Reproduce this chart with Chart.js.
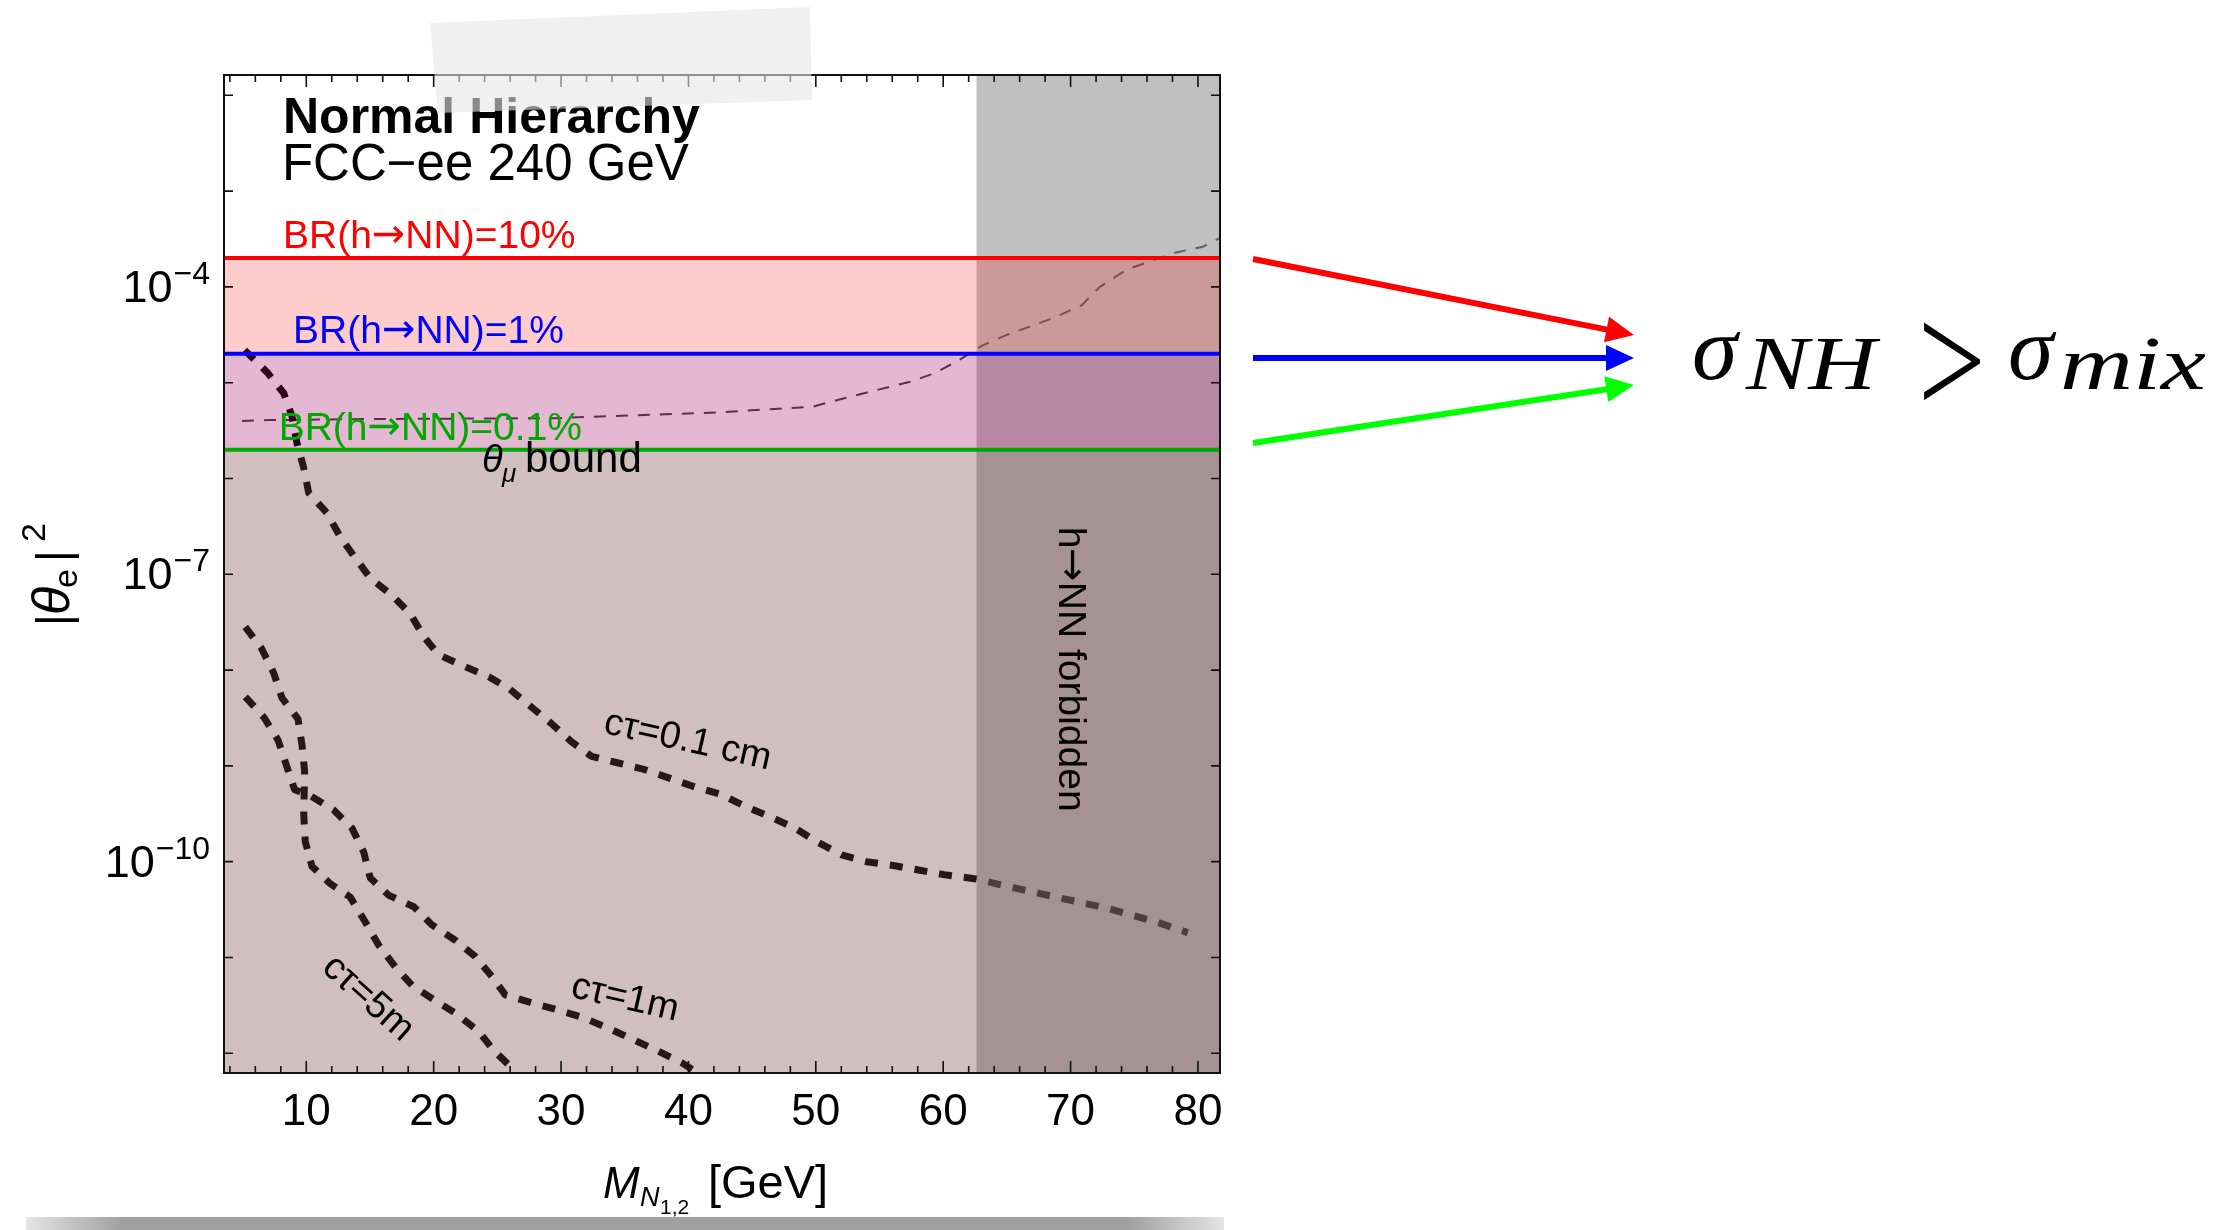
<!DOCTYPE html>
<html>
<head>
<meta charset="utf-8">
<script src="https://cdn.jsdelivr.net/npm/chart.js@4.4.1/dist/chart.umd.min.js"></script>
<style>
  html, body { margin: 0; padding: 0; background: #fff; }
  canvas { display: block; }
</style>
</head>
<body>
<canvas id="c" width="2220" height="1230"></canvas>
<script>
// Heavy neutrino mass M_N1,2 [GeV] on x, |theta_e|^2 on a log y axis.
// y values below as log10 exponents.
const axisX = [3.54, 81.73];
const axisLogY = [-12.206, -1.788];
const xTicks = [10, 20, 30, 40, 50, 60, 70, 80];
const xMinorStep = 2;
const yLabelExps = [-4, -7, -10];

const brLevels = [2e-4, 2e-5, 2e-6];
const brPercents = ['10%', '1%', '0.1%'];
const forbiddenX = [62.6, 81.73];

const ct01cmX = [5.16, 6.92, 8.23, 8.88, 9.27, 9.80, 10.19, 11.62, 12.67, 13.85, 15.02, 16.73, 18.16, 19.22, 20.39, 22.22, 24.32, 25.89, 29.26, 30.83, 32.40, 34.49, 36.59, 38.55, 40.51, 42.61, 44.57, 46.40, 48.36, 50.06, 52.03, 53.99, 56.08, 58.18, 60.27, 62.58, 64.45, 68.51, 72.69, 76.75, 79.2];
const ct01cmLogY = [-4.66, -4.89, -5.11, -5.35, -5.63, -5.89, -6.15, -6.36, -6.61, -6.83, -7.04, -7.22, -7.41, -7.65, -7.84, -7.95, -8.07, -8.19, -8.56, -8.75, -8.90, -8.97, -9.04, -9.13, -9.22, -9.30, -9.43, -9.53, -9.65, -9.79, -9.93, -10.00, -10.04, -10.09, -10.14, -10.18, -10.24, -10.36, -10.48, -10.63, -10.74];

const ct1mX = [5.21, 6.66, 7.78, 8.43, 9.09, 10.31, 12.15, 13.59, 14.51, 15.02, 16.47, 18.43, 19.87, 21.70, 23.27, 24.58, 25.62, 27.85, 29.81, 31.77, 33.74, 35.70, 37.66, 39.49, 40.54];
const ct1mLogY = [-8.28, -8.49, -8.73, -8.99, -9.25, -9.31, -9.46, -9.65, -9.90, -10.17, -10.35, -10.47, -10.66, -10.82, -10.99, -11.20, -11.39, -11.48, -11.55, -11.63, -11.74, -11.86, -11.98, -12.10, -12.19];

const ct5mX = [5.21, 6.47, 7.44, 8.09, 9.35, 9.66, 9.87, 9.80, 9.92, 10.45, 11.88, 13.45, 14.63, 15.68, 16.99, 18.30, 20.0, 21.70, 23.53, 24.71, 26.28];
const ct5mLogY = [-7.55, -7.77, -8.03, -8.29, -8.51, -8.78, -9.06, -9.51, -9.79, -10.05, -10.23, -10.37, -10.63, -10.87, -11.10, -11.29, -11.44, -11.58, -11.77, -11.97, -12.17];

const thetaMuX = [4.95, 7.05, 14.4, 29.5, 42.3, 49.8, 51.7, 57.4, 59.35, 61.3, 63.1, 65.0, 67.1, 68.9, 70.9, 71.4, 72.3, 74.4, 76.5, 78.3, 80.4, 81.7];
const thetaMuLogY = [-5.40, -5.39, -5.38, -5.37, -5.31, -5.25, -5.18, -4.99, -4.90, -4.76, -4.61, -4.50, -4.40, -4.31, -4.19, -4.12, -4.00, -3.82, -3.72, -3.64, -3.58, -3.49];

const SANS = '"Liberation Sans", Arial, sans-serif';
const SERIF = '"Liberation Serif", "Times New Roman", serif';
const ARROW = '"DejaVu Sans", sans-serif';

function pts(xs, logs) {
  return xs.map((x, i) => ({ x: x, y: Math.pow(10, logs[i]) }));
}

function brSet(level, lineColor, fillColor, order) {
  return {
    data: axisX.map(x => ({ x: x, y: level })),
    borderColor: lineColor, borderWidth: 4,
    backgroundColor: fillColor, fill: 'start',
    pointRadius: 0, order: order, clip: 0
  };
}

function curveSet(xs, logs, width, dash, color) {
  return {
    data: pts(xs, logs),
    borderColor: color, borderWidth: width, borderDash: dash,
    borderCapStyle: 'butt', borderJoinStyle: 'round',
    fill: false, pointRadius: 0, order: 6, clip: 0
  };
}

function txt(ctx, s, x, y, font, color, align) {
  ctx.font = font;
  ctx.fillStyle = color || '#000';
  ctx.textAlign = align || 'left';
  ctx.textBaseline = 'alphabetic';
  ctx.fillText(s, x, y);
}

// draws [text, font, dy] pieces one after another, returns the width used
function runs(ctx, parts, x, y, color, measureOnly) {
  let cx = x;
  parts.forEach(p => {
    ctx.font = p[1];
    if (!measureOnly) txt(ctx, p[0], cx, y + (p[2] || 0), p[1], color);
    cx += ctx.measureText(p[0]).width;
  });
  return cx - x;
}

// text stretched to a given width (math italics are wider than Times)
function wideTxt(ctx, s, x, y, font, width) {
  ctx.save();
  ctx.font = font;
  const w = ctx.measureText(s).width;
  ctx.translate(x, y);
  ctx.scale(width / w, 1);
  txt(ctx, s, 0, 0, font);
  ctx.restore();
}

function brParts(pct) {
  return [['BR(h', '39px ' + SANS], ['→', '40px ' + ARROW, -1], ['NN)=' + pct, '39px ' + SANS]];
}

function arrow(ctx, x1, y1, x2, y2, color) {
  const ang = Math.atan2(y2 - y1, x2 - x1), head = 28, half = 13;
  const bx = x2 - head * Math.cos(ang), by = y2 - head * Math.sin(ang);
  ctx.strokeStyle = color; ctx.fillStyle = color; ctx.lineWidth = 6; ctx.setLineDash([]);
  ctx.beginPath(); ctx.moveTo(x1, y1); ctx.lineTo(bx + 2 * Math.cos(ang), by + 2 * Math.sin(ang)); ctx.stroke();
  ctx.beginPath();
  ctx.moveTo(x2, y2);
  ctx.lineTo(bx + half * Math.sin(ang), by - half * Math.cos(ang));
  ctx.lineTo(bx - half * Math.sin(ang), by + half * Math.cos(ang));
  ctx.closePath(); ctx.fill();
}

const decorations = {
  id: 'decorations',
  afterDraw(chart) {
    const ctx = chart.ctx, a = chart.chartArea;
    const sx = chart.scales.x, sy = chart.scales.y;
    const px = x => sx.getPixelForValue(x);
    const py = e => sy.getPixelForValue(Math.pow(10, e));
    ctx.save();

    // frame + inward ticks
    ctx.setLineDash([]);
    ctx.strokeStyle = '#111'; ctx.lineWidth = 2;
    ctx.strokeRect(a.left, a.top, a.right - a.left, a.bottom - a.top);
    ctx.lineWidth = 1.6;
    ctx.beginPath();
    for (let v = Math.ceil(axisX[0] / xMinorStep) * xMinorStep; v <= axisX[1]; v += xMinorStep) {
      const len = v % 10 === 0 ? 12 : 7, X = px(v);
      ctx.moveTo(X, a.bottom); ctx.lineTo(X, a.bottom - len);
      ctx.moveTo(X, a.top); ctx.lineTo(X, a.top + len);
    }
    sy.ticks.forEach(t => {
      const Y = sy.getPixelForValue(t.value);
      ctx.moveTo(a.left, Y); ctx.lineTo(a.left + 9, Y);
      ctx.moveTo(a.right, Y); ctx.lineTo(a.right - 9, Y);
    });
    ctx.stroke();

    // tick labels
    sx.ticks.forEach(t => txt(ctx, String(t.value), px(t.value), 1125, '44px ' + SANS, '#000', 'center'));
    yLabelExps.forEach(e => {
      const Y = py(e), sup = '−' + String(-e);
      ctx.font = '32px ' + SANS;
      const w = ctx.measureText(sup).width;
      txt(ctx, sup, 210, Y - 3, '32px ' + SANS, '#000', 'right');
      txt(ctx, '10', 210 - w - 1, Y + 15, '45px ' + SANS, '#000', 'right');
    });

    // axis titles
    txt(ctx, 'M', 603, 1198, 'italic 44px ' + SANS);
    txt(ctx, 'N', 640, 1206, 'italic 27px ' + SANS);
    txt(ctx, '1,2', 660, 1214, '21px ' + SANS);
    txt(ctx, '[GeV]', 708, 1198, '47px ' + SANS);

    ctx.save();
    ctx.translate(69, 622);
    ctx.rotate(-Math.PI / 2);
    txt(ctx, '|', -4, 0, '46px ' + SANS);
    txt(ctx, 'θ', 7, 0, 'italic 52px ' + SANS);
    txt(ctx, 'e', 34, 8, '34px ' + SANS);
    txt(ctx, '|', 60, 0, '46px ' + SANS);
    txt(ctx, '2', 80, -24, '34px ' + SANS);
    ctx.restore();

    // annotations inside the frame
    txt(ctx, 'Normal Hierarchy', px(8.17), py(-2.393), 'bold 50px ' + SANS);
    txt(ctx, 'FCC−ee 240 GeV', px(8.09), py(-2.884), '51px ' + SANS);
    runs(ctx, brParts(brPercents[0]), px(8.17), py(-3.594), '#ff0000');
    runs(ctx, brParts(brPercents[1]), px(8.96), py(-4.589), '#0000ff');
    runs(ctx, brParts(brPercents[2]), px(7.83), py(-5.598), '#00a800');
    txt(ctx, 'θ', px(23.79), py(-5.929), 'italic 38px ' + SANS);
    txt(ctx, 'μ', px(23.79) + 20, py(-5.929) + 10, 'italic 26px ' + SANS);
    txt(ctx, 'bound', px(23.79) + 43, py(-5.929), '42px ' + SANS);

    const rotated = [
      ['cτ=0.1 cm', 39.94, -8.740, 12.6],
      ['cτ=1m', 35.02, -11.428, 13],
      ['cτ=5m', 14.84, -11.428, 42]
    ];
    rotated.forEach(r => {
      ctx.save();
      ctx.translate(px(r[1]), py(r[2]));
      ctx.rotate(r[3] * Math.PI / 180);
      ctx.font = '38px ' + SANS;
      ctx.fillStyle = '#000'; ctx.textAlign = 'center'; ctx.textBaseline = 'middle';
      ctx.fillText(r[0], 0, 0);
      ctx.restore();
    });

    ctx.save();
    ctx.translate(px(70.18), py(-7.99));
    ctx.rotate(Math.PI / 2);
    const forb = [['h', '39px ' + SANS], ['→', '40px ' + ARROW, -1], ['NN forbidden', '39px ' + SANS]];
    const fw = runs(ctx, forb, 0, 0, '#000', true);
    runs(ctx, forb, -fw / 2, 14, '#000');
    ctx.restore();

    // tape strip over the top of the plot
    ctx.fillStyle = 'rgba(230,230,230,0.6)';
    ctx.beginPath();
    ctx.moveTo(430, 23); ctx.lineTo(810, 7); ctx.lineTo(812, 100); ctx.lineTo(438, 113);
    ctx.closePath(); ctx.fill();

    // bottom shadow
    const g = ctx.createLinearGradient(26, 0, 1224, 0);
    g.addColorStop(0, 'rgba(150,150,150,0.25)');
    g.addColorStop(0.08, 'rgba(150,150,150,0.9)');
    g.addColorStop(0.92, 'rgba(150,150,150,0.9)');
    g.addColorStop(1, 'rgba(150,150,150,0.25)');
    ctx.fillStyle = g;
    ctx.fillRect(26, 1217, 1198, 13);

    // arrows + inequality
    arrow(ctx, 1253, 259, 1634, 335, '#ff0000');
    arrow(ctx, 1253, 358, 1634, 358, '#0000ff');
    arrow(ctx, 1253, 443, 1634, 385, '#00ff00');
    const sub = 'italic 76px ' + SERIF;
    txt(ctx, 'σ', 1692, 379, 'italic 92px ' + SERIF);
    wideTxt(ctx, 'NH', 1746, 389, sub, 130);
    ctx.save();
    ctx.translate(1918, 415);
    ctx.scale(1, 1.35);
    txt(ctx, '>', 0, 0, '120px ' + SERIF);
    ctx.restore();
    txt(ctx, 'σ', 2008, 379, 'italic 92px ' + SERIF);
    wideTxt(ctx, 'mix', 2060, 389, sub, 146);

    ctx.restore();
  }
};

new Chart(document.getElementById('c'), {
  type: 'line',
  data: {
    datasets: [
      brSet(brLevels[2], '#00a800', 'rgba(0,255,0,0.088)', 1),
      brSet(brLevels[1], '#0000ff', 'rgba(0,0,255,0.106)', 2),
      brSet(brLevels[0], '#ff0000', 'rgba(255,0,0,0.2)', 3),
      {
        data: forbiddenX.map(x => ({ x: x, y: Math.pow(10, axisLogY[1]) })),
        borderColor: 'rgba(0,0,0,0)', borderWidth: 1,
        backgroundColor: 'rgba(127,127,127,0.49)', fill: 'start',
        pointRadius: 0, order: 4, clip: 0
      },
      curveSet(ct01cmX, ct01cmLogY, 7, [13, 12], '#000'),
      curveSet(ct1mX, ct1mLogY, 7, [13, 12], '#000'),
      curveSet(ct5mX, ct5mLogY, 7, [13, 12], '#000'),
      curveSet(thetaMuX, thetaMuLogY, 2, [12, 10], 'rgba(0,0,0,0.75)')
    ]
  },
  options: {
    responsive: false,
    maintainAspectRatio: false,
    devicePixelRatio: 1,
    animation: false,
    layout: { padding: { left: 0, right: 1000, top: 75, bottom: 0 } },
    plugins: { legend: { display: false }, tooltip: { enabled: false } },
    scales: {
      x: {
        type: 'linear', min: axisX[0], max: axisX[1], bounds: 'data',
        afterBuildTicks: s => { s.ticks = xTicks.map(v => ({ value: v })); },
        afterFit: s => { s.height = 157; },
        ticks: { display: false },
        grid: { display: false, drawTicks: false },
        border: { display: false }
      },
      y: {
        type: 'logarithmic', min: Math.pow(10, axisLogY[0]), max: Math.pow(10, axisLogY[1]), bounds: 'data',
        afterBuildTicks: s => {
          const t = [];
          for (let e = Math.ceil(axisLogY[0]); e <= Math.floor(axisLogY[1]); e++) t.push({ value: Math.pow(10, e) });
          s.ticks = t;
        },
        afterFit: s => { s.width = 224; },
        ticks: { display: false },
        grid: { display: false, drawTicks: false },
        border: { display: false }
      }
    }
  },
  plugins: [decorations]
});
</script>
</body>
</html>
